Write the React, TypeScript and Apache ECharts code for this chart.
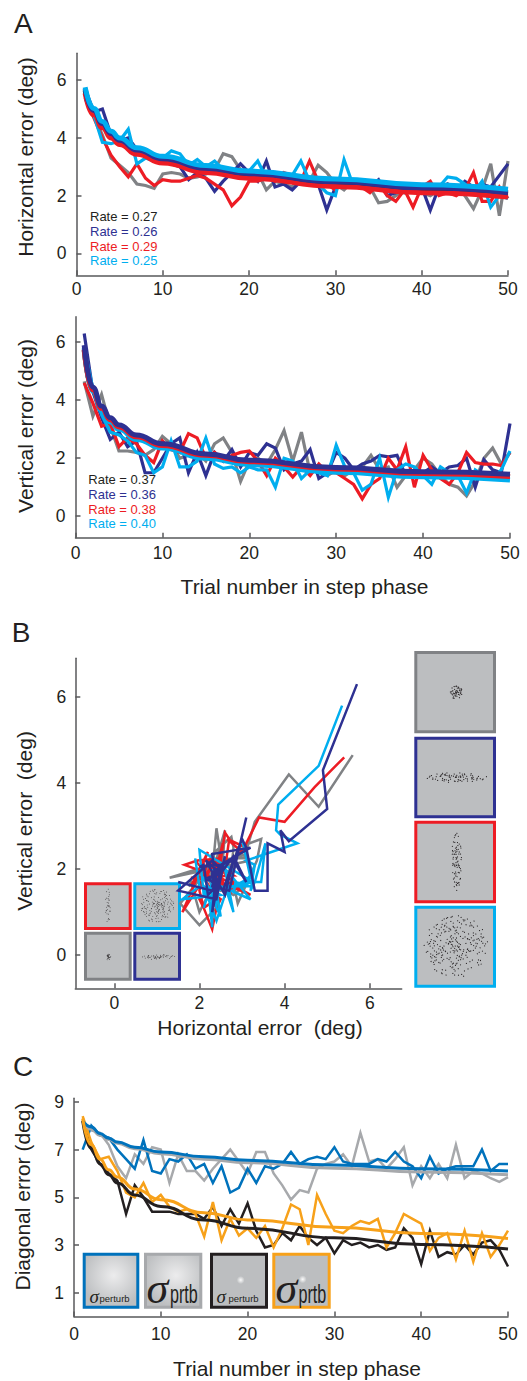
import React, { useEffect, useRef } from "react";
import * as echarts from "echarts";

const FONT = '"Liberation Sans", Arial, Helvetica, sans-serif';
const SERIF = '"Liberation Serif", "Times New Roman", serif';
const AX = "#58595b";
const TXT = "#231f20";

const GRAY = "#808285";
const NAVY = "#2e3192";
const RED = "#ed1c24";
const CYAN = "#00aeef";
const BLACK = "#231f20";
const CBLUE = "#0072bc";
const CGRAY = "#a7a9ac";
const CORANGE = "#f7a11a";

// ---------- Panel A (top): horizontal error per trial (trials 1..50) ----------
const hGray = [5.6, 4.8, 4.1, 3.3, 3.05, 2.8, 2.4, 2.35, 2.25, 2.75, 2.8, 2.75, 2.6, 2.65, 2.75, 2.9, 3.45, 3.35, 2.9, 2.75, 2.8, 2.2, 2.5, 2.4, 2.3, 2.6, 2.5, 3.05, 2.8, 2.4, 2.2, 2.5, 2.4, 2.3, 1.75, 1.8, 2.0, 2.2, 2.3, 2.1, 2.0, 2.2, 2.4, 2.3, 2.0, 1.55, 2.2, 3.1, 1.3, 3.2];
const hNavy = [5.7, 4.9, 5.0, 4.1, 3.9, 4.0, 3.6, 3.6, 3.3, 3.2, 3.1, 3.0, 2.55, 2.8, 2.6, 2.15, 2.5, 2.8, 3.1, 2.8, 2.5, 3.2, 2.3, 2.4, 2.2, 2.5, 2.6, 2.4, 1.5, 2.3, 2.5, 2.4, 2.3, 2.3, 2.55, 2.0, 2.1, 2.2, 2.4, 2.3, 1.5, 2.3, 2.4, 2.2, 2.5, 2.3, 2.4, 2.3, 2.7, 3.1];
const hRed = [5.4, 4.7, 4.0, 3.4, 3.0, 2.65, 3.1, 2.6, 2.35, 2.55, 2.5, 2.5, 2.6, 2.7, 2.6, 2.4, 2.2, 1.65, 1.95, 2.5, 2.5, 2.6, 2.5, 2.8, 2.7, 2.5, 3.2, 2.5, 2.4, 2.2, 2.5, 2.4, 2.3, 2.1, 2.4, 2.0, 1.8, 2.2, 1.6, 2.3, 2.5, 2.0, 2.1, 2.0, 2.2, 2.8, 1.8, 1.8, 2.3, 1.9];
const hCyan = [5.35, 4.8, 3.85, 3.8, 3.9, 4.3, 3.1, 3.3, 3.2, 3.3, 3.55, 3.45, 3.05, 3.25, 3.0, 3.2, 2.9, 2.9, 2.8, 2.85, 3.2, 2.6, 2.8, 2.6, 2.7, 3.2, 2.5, 2.4, 2.1, 2.0, 3.25, 2.4, 2.5, 2.4, 2.3, 2.3, 2.2, 2.1, 2.3, 2.2, 2.1, 2.3, 2.65, 2.6, 2.4, 2.1, 2.5, 1.6, 2.0, 1.9];

// ---------- Panel A (bottom): vertical error per trial ----------
const vGray = [4.65, 3.45, 4.2, 3.1, 2.25, 2.25, 2.2, 2.1, 2.3, 2.75, 2.5, 2.0, 2.1, 2.2, 1.9, 2.5, 2.7, 2.2, 1.2, 1.9, 2.0, 1.8, 2.3, 2.95, 1.9, 2.9, 1.5, 1.6, 1.4, 1.6, 1.4, 1.6, 1.7, 2.1, 1.6, 1.7, 1.0, 1.4, 1.6, 2.0, 1.8, 1.4, 1.1, 1.0, 0.7, 1.2, 2.0, 2.35, 1.8, 2.2];
const vNavy = [6.3, 4.3, 3.4, 2.65, 2.9, 2.4, 2.6, 1.5, 1.5, 2.0, 2.5, 2.7, 1.5, 2.2, 1.4, 2.2, 1.9, 2.3, 1.7, 2.2, 2.1, 2.5, 2.35, 1.6, 1.8, 1.9, 2.3, 1.3, 1.5, 2.2, 2.0, 1.6, 1.8, 1.9, 2.1, 2.05, 2.1, 1.4, 1.6, 1.5, 1.7, 1.5, 1.7, 1.75, 2.0, 1.0, 1.95, 1.6, 1.5, 3.2];
const vRed = [4.6, 3.9, 3.1, 3.2, 2.4, 2.7, 2.5, 2.1, 1.85, 2.6, 2.3, 2.2, 2.85, 2.7, 2.0, 2.2, 1.9, 2.1, 2.2, 2.25, 1.9, 1.4, 2.0, 1.7, 1.35, 1.7, 1.4, 1.8, 1.5, 1.5, 1.3, 1.1, 0.6, 1.1, 1.3, 2.0, 1.6, 2.4, 1.0, 2.1, 1.6, 1.3, 1.1, 1.5, 2.2, 1.85, 1.8, 1.8, 1.75, 2.2];
const vCyan = [5.8, 4.4, 3.5, 2.9, 2.8, 2.6, 2.2, 2.1, 1.5, 1.7, 2.6, 1.7, 1.7, 1.9, 2.7, 1.8, 1.65, 1.7, 1.5, 1.7, 1.6, 1.6, 1.0, 2.0, 1.9, 1.3, 1.6, 1.5, 1.4, 2.45, 1.7, 1.5, 0.9, 1.1, 2.0, 0.65, 1.6, 1.8, 1.7, 1.4, 1.1, 1.7, 1.5, 1.4, 0.8, 1.6, 1.4, 1.3, 1.6, 2.25];

// ---------- fitted curves (read at these trials) ----------
const fitTrials = [1, 2, 3, 4, 5, 7, 10, 15, 20, 30, 40, 50];
const hFitBlack = [5.65, 4.9, 4.44, 4.1, 3.86, 3.52, 3.22, 2.9, 2.7, 2.42, 2.2, 2.05];
const hFitNavy = [5.7, 4.95, 4.5, 4.15, 3.92, 3.58, 3.28, 2.95, 2.76, 2.48, 2.27, 2.1];
const hFitRed = [5.55, 4.8, 4.35, 4.0, 3.77, 3.43, 3.13, 2.8, 2.6, 2.32, 2.1, 1.95];
const hFitCyan = [5.75, 5.02, 4.57, 4.23, 4.0, 3.66, 3.36, 3.04, 2.85, 2.58, 2.38, 2.22];
const vFitBlack = [5.72, 4.33, 3.7, 3.31, 3.06, 2.72, 2.42, 2.08, 1.86, 1.61, 1.45, 1.35];
const vFitNavy = [5.9, 4.45, 3.8, 3.4, 3.15, 2.8, 2.5, 2.15, 1.93, 1.68, 1.53, 1.45];
const vFitRed = [5.75, 4.35, 3.72, 3.33, 3.08, 2.74, 2.44, 2.1, 1.88, 1.63, 1.47, 1.37];
const vFitCyan = [5.8, 4.3, 3.65, 3.25, 3.0, 2.65, 2.35, 2.0, 1.78, 1.52, 1.36, 1.25];

const hRates = ["Rate = 0.27", "Rate = 0.26", "Rate = 0.29", "Rate = 0.25"];
const vRates = ["Rate = 0.37", "Rate = 0.36", "Rate = 0.38", "Rate = 0.40"];

// ---------- Panel C: diagonal error per trial ----------
const cBlue = [7.0, 8.0, 7.6, 7.5, 7.0, 6.6, 6.2, 7.4, 6.1, 6.0, 6.6, 6.5, 6.8, 6.2, 6.4, 5.6, 6.3, 5.2, 5.4, 6.2, 5.6, 6.3, 6.2, 6.4, 6.9, 6.4, 6.6, 6.7, 6.6, 7.1, 6.5, 6.4, 6.4, 6.4, 6.6, 6.5, 6.9, 6.5, 6.3, 5.8, 6.7, 6.0, 6.2, 6.3, 6.3, 6.3, 7.0, 6.1, 6.4, 6.4];
const cGray = [8.2, 7.8, 7.7, 7.2, 6.3, 5.8, 6.8, 6.4, 7.1, 7.0, 5.6, 6.8, 6.1, 6.1, 5.7, 6.2, 6.6, 7.0, 6.5, 6.0, 6.9, 6.9, 6.0, 5.5, 4.9, 5.3, 5.2, 6.2, 6.4, 6.5, 6.8, 6.3, 7.7, 6.5, 6.6, 6.2, 6.6, 7.1, 5.5, 6.3, 5.8, 6.4, 5.8, 7.2, 5.8, 6.1, 6.0, 5.8, 5.65, 5.85];
const cBlack = [8.2, 7.0, 6.4, 6.0, 5.7, 4.3, 5.5, 5.0, 4.4, 4.4, 4.4, 4.3, 4.3, 4.3, 4.1, 4.6, 3.8, 4.5, 3.9, 4.75, 3.6, 2.9, 3.0, 3.5, 3.2, 3.8, 3.3, 3.0, 3.3, 2.65, 3.2, 3.0, 3.1, 2.9, 3.0, 2.8, 2.9, 3.7, 3.3, 2.2, 3.6, 2.5, 2.7, 2.6, 3.0, 2.6, 3.1, 3.2, 2.8, 2.1];
const cOrange = [8.4, 7.3, 6.6, 6.7, 6.1, 5.2, 5.0, 5.6, 4.8, 5.1, 4.6, 4.4, 4.5, 4.3, 3.35, 4.8, 3.2, 4.1, 3.4, 3.7, 3.3, 3.8, 2.9, 3.7, 4.7, 4.5, 3.0, 5.1, 4.3, 3.6, 3.5, 3.8, 4.0, 3.9, 4.1, 2.9, 3.5, 4.3, 4.1, 3.9, 2.75, 3.3, 3.5, 2.4, 3.6, 2.3, 3.5, 2.5, 3.0, 3.6];
const cFitBlue = [8.2, 7.95, 7.67, 7.48, 7.32, 7.1, 6.9, 6.7, 6.55, 6.35, 6.2, 6.1];
const cFitGray = [8.25, 7.85, 7.6, 7.42, 7.27, 7.04, 6.83, 6.6, 6.45, 6.22, 6.06, 5.95];
const cFitBlack = [8.2, 7.05, 6.4, 5.95, 5.6, 5.1, 4.62, 4.05, 3.7, 3.3, 3.02, 2.83];
const cFitOrange = [8.3, 7.2, 6.6, 6.15, 5.85, 5.35, 4.9, 4.35, 4.05, 3.75, 3.48, 3.27];

const trialTicks = [0, 10, 20, 30, 40, 50];
const errTicks = [0, 2, 4, 6];
const diagTicks = [1, 3, 5, 7, 9];

const byTrial = (arr: number[]) => arr.map((v, i) => [i + 1, v]);
const byFit = (arr: number[]) => arr.map((v, i) => [fitTrials[i], v]);
const pairs = (hx: number[], vy: number[]) => hx.map((h, i) => [h, vy[i]]);

function line(idx: number, data: number[][], color: string, width: number, z: number, smooth = false) {
  return {
    type: "line",
    xAxisIndex: idx,
    yAxisIndex: idx,
    data,
    symbol: "none",
    showSymbol: false,
    smooth,
    smoothMonotone: smooth ? "x" : undefined,
    silent: true,
    z,
    lineStyle: { color, width, join: "miter" },
  };
}

function axis(grid: number, min: number, max: number, ticks: number[], margin: number, pos: string) {
  return {
    type: "value",
    gridIndex: grid,
    position: pos,
    min,
    max,
    axisLine: { show: true, onZero: false, lineStyle: { color: AX, width: 1.5 } },
    axisTick: { show: true, inside: true, length: 5, customValues: ticks, lineStyle: { color: AX, width: 1.5 } },
    axisLabel: { customValues: ticks, margin, fontSize: 17.5, color: TXT, fontFamily: FONT },
    splitLine: { show: false },
  };
}

// Halton low-discrepancy sequence, used only to scatter the decorative stimulus dots
function halton(i: number, b: number) {
  let f = 1;
  let r = 0;
  let k = i;
  while (k > 0) {
    f /= b;
    r += f * (k % b);
    k = Math.floor(k / b);
  }
  return r;
}

function cloud(cx: number, cy: number, rx: number, ry: number, n: number, r: number, p = 1.4) {
  const els: any[] = [];
  let i = 1;
  while (els.length < n && i < 20000) {
    const x = 2 * halton(i, 2) - 1;
    const y = 2 * halton(i, 3) - 1;
    i++;
    const d2 = x * x + y * y;
    if (d2 > 1) continue;
    const s = d2 > 0 ? Math.pow(Math.sqrt(d2), p - 1) : 0;
    els.push({
      type: "circle",
      silent: true,
      shape: { cx: cx + rx * x * s, cy: cy + ry * y * s, r },
      style: { fill: "#231f20" },
    });
  }
  return els;
}

function box(x0: number, y0: number, x1: number, y1: number, stroke: string, fill: any, z = 0) {
  return {
    type: "rect",
    silent: true,
    z,
    shape: { x: x0 + 1.5, y: y0 + 1.5, width: x1 - x0 - 3, height: y1 - y0 - 3 },
    style: { fill, stroke, lineWidth: 3 },
  };
}

function txt(text: string, x: number, y: number, size: number, color = TXT, extra: any = {}) {
  return {
    type: "text",
    silent: true,
    x,
    y,
    z: extra.z ?? 5,
    rotation: extra.rotation ?? 0,
    scaleX: extra.scaleX ?? 1,
    style: {
      text,
      fill: color,
      fontSize: size,
      fontFamily: extra.family ?? FONT,
      fontStyle: extra.italic ? "italic" : "normal",
      align: extra.align ?? "center",
      verticalAlign: "middle",
    },
  };
}

function glow(cx: number, cy: number, r: number, z: number) {
  return {
    type: "circle",
    silent: true,
    z,
    shape: { cx, cy, r },
    style: {
      fill: new echarts.graphic.RadialGradient(0.5, 0.5, 0.5, [
        { offset: 0, color: "rgba(255,255,255,0.95)" },
        { offset: 1, color: "rgba(255,255,255,0)" },
      ]),
    },
  };
}

function buildOption() {
  const FILL = "#bcbec0";
  const bigGlow = () =>
    new echarts.graphic.RadialGradient(0.55, 0.4, 0.6, [
      { offset: 0, color: "#ececed" },
      { offset: 1, color: FILL },
    ]);

  const graphic: any[] = [
    txt("A", 23.3, 23.5, 28),
    txt("B", 21.2, 632.5, 28),
    txt("C", 23, 1066, 28),
    txt("Horizontal error (deg)", 25.8, 157, 21, TXT, { rotation: Math.PI / 2 }),
    txt("Vertical error (deg)", 25, 426, 21, TXT, { rotation: Math.PI / 2 }),
    txt("Trial number in step phase", 304.5, 586, 21),
    txt("Vertical error  (deg)", 24, 821, 21, TXT, { rotation: Math.PI / 2 }),
    txt("Horizontal error  (deg)", 260, 1027, 21),
    txt("Diagonal error (deg)", 22.5, 1196.5, 21, TXT, { rotation: Math.PI / 2 }),
    txt("Trial number in step phase", 297, 1368.3, 21),
  ];
  const rateColors = [BLACK, NAVY, RED, CYAN];
  const hY = [216.7, 231.7, 246.2, 260.7];
  const vY = [479.3, 494.3, 509, 523.7];
  hRates.forEach((t, i) => graphic.push(txt(t, 90, hY[i], 13, rateColors[i], { align: "left" })));
  vRates.forEach((t, i) => graphic.push(txt(t, 88.3, vY[i], 13, rateColors[i], { align: "left" })));

  // Panel B insets (large, right)
  graphic.push(box(414.3, 651, 496, 733.3, GRAY, FILL));
  graphic.push(box(414.3, 736.7, 496, 818.3, NAVY, FILL));
  graphic.push(box(414.3, 820.7, 496, 903.3, RED, FILL));
  graphic.push(box(414.3, 905.7, 496, 987.7, CYAN, FILL));
  graphic.push(...cloud(456, 692.5, 6.5, 6.5, 90, 0.55, 1.3));
  graphic.push(...cloud(456, 777.5, 31, 5, 170, 0.55, 1.3));
  graphic.push(...cloud(456.5, 862, 5, 29, 150, 0.55, 1.3));
  graphic.push(...cloud(456, 946.5, 32, 31, 480, 0.55, 1.25));
  // Panel B insets (small, lower-left)
  graphic.push(box(84, 882.3, 131.7, 930, RED, FILL));
  graphic.push(box(133.3, 882.3, 181, 930, CYAN, FILL));
  graphic.push(box(84, 931.7, 131.7, 980.7, GRAY, FILL));
  graphic.push(box(133.3, 931.7, 181, 980.7, NAVY, FILL));
  graphic.push(...cloud(108, 906, 3, 17, 90, 0.4, 1.3));
  graphic.push(...cloud(157, 906, 17, 17, 480, 0.4, 1.25));
  graphic.push(...cloud(108, 957, 3, 3, 40, 0.4, 1.3));
  graphic.push(...cloud(157, 957, 18, 2.5, 130, 0.4, 1.3));

  // Panel C insets
  const ZC = 20;
  graphic.push(box(82.7, 1252.7, 139.3, 1308.7, CBLUE, bigGlow(), ZC));
  graphic.push(box(144, 1252.7, 202.3, 1308.7, CGRAY, bigGlow(), ZC));
  graphic.push(box(210, 1252.7, 268, 1308.7, BLACK, FILL, ZC));
  graphic.push(box(272.3, 1252.7, 330.7, 1308.7, CORANGE, FILL, ZC));
  graphic.push(glow(240.7, 1280, 4, ZC + 1));
  graphic.push(glow(302.7, 1279.3, 4, ZC + 1));
  graphic.push(txt("σ", 89.5, 1296, 19, TXT, { align: "left", italic: true, family: SERIF, z: ZC + 2 }));
  graphic.push(txt("perturb", 99.5, 1298.5, 9.5, TXT, { align: "left", z: ZC + 2 }));
  graphic.push(txt("σ", 146.5, 1288.5, 44, TXT, { align: "left", italic: true, family: SERIF, z: ZC + 2 }));
  graphic.push(txt("prtb", 170, 1294, 26, TXT, { align: "left", scaleX: 0.62, z: ZC + 2 }));
  graphic.push(txt("σ", 216.5, 1296, 19, TXT, { align: "left", italic: true, family: SERIF, z: ZC + 2 }));
  graphic.push(txt("perturb", 228.5, 1298.5, 9.5, TXT, { align: "left", z: ZC + 2 }));
  graphic.push(txt("σ", 275.5, 1288.5, 44, TXT, { align: "left", italic: true, family: SERIF, z: ZC + 2 }));
  graphic.push(txt("prtb", 298.5, 1294, 26, TXT, { align: "left", scaleX: 0.62, z: ZC + 2 }));

  const series = [
    // A top data
    line(0, byTrial(hGray), GRAY, 3.2, 2),
    line(0, byTrial(hNavy), NAVY, 3.2, 2),
    line(0, byTrial(hRed), RED, 3.2, 2),
    line(0, byTrial(hCyan), CYAN, 3.2, 2),
    // A top fits
    line(0, byFit(hFitBlack), BLACK, 5, 3, true),
    line(0, byFit(hFitRed), RED, 5, 3, true),
    line(0, byFit(hFitNavy), NAVY, 5, 3, true),
    line(0, byFit(hFitCyan), CYAN, 5, 3, true),
    // A bottom data
    line(1, byTrial(vGray), GRAY, 3.2, 2),
    line(1, byTrial(vNavy), NAVY, 3.2, 2),
    line(1, byTrial(vRed), RED, 3.2, 2),
    line(1, byTrial(vCyan), CYAN, 3.2, 2),
    // A bottom fits
    line(1, byFit(vFitBlack), BLACK, 5, 3, true),
    line(1, byFit(vFitCyan), CYAN, 5, 3, true),
    line(1, byFit(vFitRed), RED, 5, 3, true),
    line(1, byFit(vFitNavy), NAVY, 5, 3, true),
    // B: horizontal vs vertical
    line(2, pairs(hGray, vGray), GRAY, 2.5, 2),
    line(2, pairs(hRed, vRed), RED, 2.5, 2),
    line(2, pairs(hCyan, vCyan), CYAN, 2.5, 2),
    line(2, pairs(hNavy, vNavy), NAVY, 2.5, 2),
    // C data
    line(3, byTrial(cGray), CGRAY, 2.5, 2),
    line(3, byTrial(cBlue), CBLUE, 2.5, 2),
    line(3, byTrial(cBlack), BLACK, 2.5, 2),
    line(3, byTrial(cOrange), CORANGE, 2.5, 2),
    // C fits
    line(3, byFit(cFitGray), CGRAY, 3, 3, true),
    line(3, byFit(cFitBlue), CBLUE, 3, 3, true),
    line(3, byFit(cFitBlack), BLACK, 3, 3, true),
    line(3, byFit(cFitOrange), CORANGE, 3, 3, true),
  ];

  return {
    animation: false,
    backgroundColor: "#ffffff",
    textStyle: { fontFamily: FONT },
    grid: [
      { left: 76.5, top: 53.3, width: 431.5, height: 222 },
      { left: 75.5, top: 316.7, width: 434.5, height: 221 },
      { left: 75.3, top: 658.3, width: 326.4, height: 330 },
      { left: 74, top: 1098.3, width: 434, height: 218.3 },
    ],
    xAxis: [
      axis(0, 0, 50, trialTicks, 4.5, "bottom"),
      axis(1, 0, 50, trialTicks, 6.5, "bottom"),
      axis(2, -0.915, 6.75, errTicks, 6, "bottom"),
      axis(3, 0, 50, trialTicks, 8.5, "bottom"),
    ],
    yAxis: [
      axis(0, -0.76, 6.93, errTicks, 10, "left"),
      axis(1, -0.74, 6.88, errTicks, 10, "left"),
      axis(2, -0.77, 6.9, errTicks, 9, "left"),
      axis(3, 0, 9.15, diagTicks, 10, "left"),
    ],
    series,
    graphic: { elements: graphic },
  };
}

export default function App() {
  const ref = useRef<HTMLDivElement>(null);
  useEffect(() => {
    if (!ref.current) return;
    const chart = echarts.init(ref.current, null, { renderer: "svg" });
    chart.setOption(buildOption() as any);
    return () => chart.dispose();
  }, []);
  return (
    <div
      ref={ref}
      style={{ position: "absolute", left: 0, top: 0, width: 527, height: 1381, background: "#fff" }}
    />
  );
}
